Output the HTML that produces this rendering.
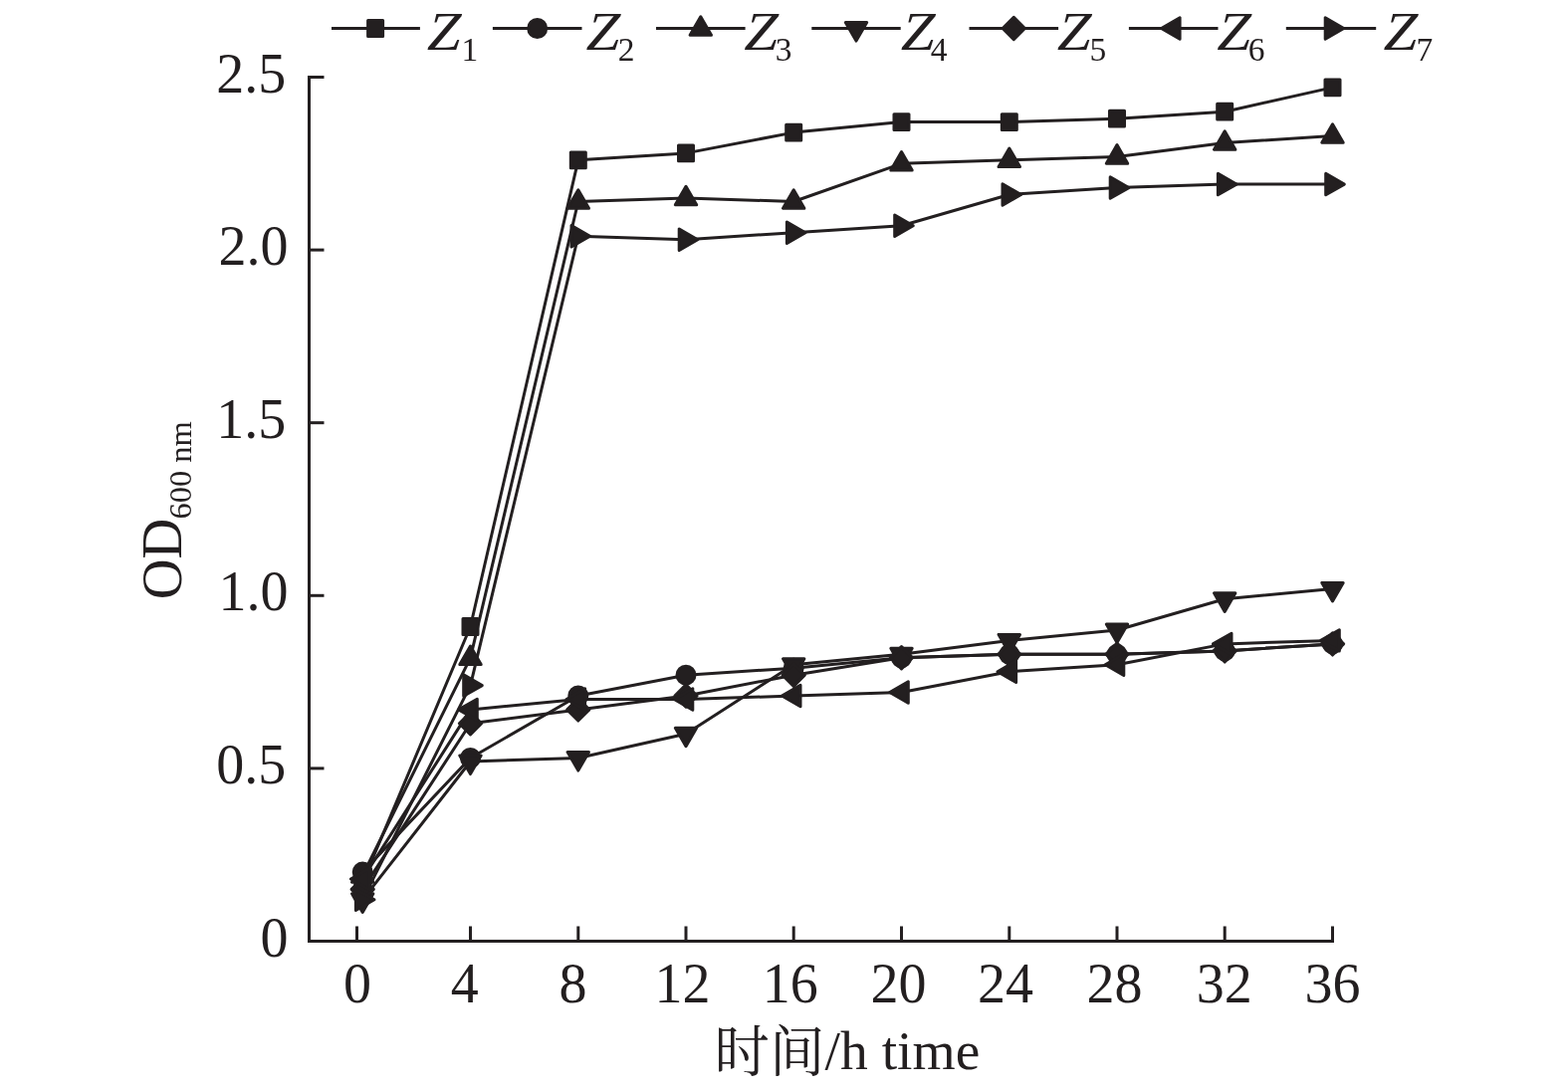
<!DOCTYPE html>
<html lang="zh"><head><meta charset="utf-8"><title>OD600 growth curves</title>
<style>html,body{margin:0;padding:0;background:#fff}svg{display:block}text{font-family:"Liberation Serif","Noto Serif CJK SC",serif;fill:#231f20}.n{font-size:56px}.t{font-size:55.5px}.o{font-size:56.5px}.s{font-size:32.5px}.s2{font-size:33.5px}.z{font-size:55px;font-style:italic}.l{stroke:#231f20;stroke-width:3;fill:none;stroke-linejoin:round;stroke-linecap:butt}.m{fill:#231f20;stroke:#231f20;stroke-width:3;stroke-linejoin:round}.a{stroke:#231f20;stroke-width:3;fill:none}</style></head><body>
<svg width="1575" height="1096" viewBox="0 0 1575 1096">
<defs>
<rect id="sq" class="m" x="-7.5" y="-7.9" width="15" height="15.8"/>
<circle id="ci" class="m" r="9"/>
<polygon id="up" class="m" points="0,-11.8 -10.7,6.8 10.7,6.8"/>
<polygon id="dn" class="m" points="0,12.6 -10.7,-6 10.7,-6"/>
<polygon id="di" class="m" points="0,-11.15 11.15,0 0,11.15 -11.15,0"/>
<polygon id="lf" class="m" points="-11.8,0 6.8,-10.7 6.8,10.7"/>
<polygon id="rt" class="m" points="11.8,0 -6.8,-10.7 -6.8,10.7"/>
</defs>
<g class="a">
<path d="M310.5 76V945.5H1340"/>
<path d="M309.0 771.9H325.5"/>
<path d="M309.0 598.3H325.5"/>
<path d="M309.0 424.7H325.5"/>
<path d="M309.0 251.1H325.5"/>
<path d="M309.0 77.5H325.5"/>
<path d="M358.5 945.5V930.5"/>
<path d="M472.5 945.5V930.5"/>
<path d="M580.8 945.5V930.5"/>
<path d="M689.0 945.5V930.5"/>
<path d="M797.2 945.5V930.5"/>
<path d="M905.5 945.5V930.5"/>
<path d="M1013.8 945.5V930.5"/>
<path d="M1122.0 945.5V930.5"/>
<path d="M1230.2 945.5V930.5"/>
<path d="M1338.5 945.5V930.5"/>
</g>
<text class="n" x="289.6" y="960.6" text-anchor="end">0</text>
<text class="n" x="287.2" y="787.0" text-anchor="end">0.5</text>
<text class="n" x="289.6" y="613.4" text-anchor="end">1.0</text>
<text class="n" x="287.2" y="439.8" text-anchor="end">1.5</text>
<text class="n" x="289.6" y="266.2" text-anchor="end">2.0</text>
<text class="n" x="287.2" y="92.6" text-anchor="end">2.5</text>
<text class="n" x="358.9" y="1007.3" text-anchor="middle">0</text>
<text class="n" x="466.7" y="1007.3" text-anchor="middle">4</text>
<text class="n" x="575.6" y="1007.3" text-anchor="middle">8</text>
<text class="n" x="685.5" y="1007.3" text-anchor="middle">12</text>
<text class="n" x="793.8" y="1007.3" text-anchor="middle">16</text>
<text class="n" x="902.6" y="1007.3" text-anchor="middle">20</text>
<text class="n" x="1010.0" y="1007.3" text-anchor="middle">24</text>
<text class="n" x="1119.6" y="1007.3" text-anchor="middle">28</text>
<text class="n" x="1229.8" y="1007.3" text-anchor="middle">32</text>
<text class="n" x="1338.4" y="1007.3" text-anchor="middle">36</text>
<text class="t" x="717.6" y="1076.3">时间<tspan dy="-2">/h time</tspan></text>
<text class="o" transform="translate(182.2 602.3) rotate(-90)">OD<tspan class="s" dx="-0.8" dy="10.1">600 nm</tspan></text>
<polyline class="l" points="364.2,886.5 472.5,629.5 580.8,160.8 689.0,153.9 797.2,133.1 905.5,122.6 1013.8,122.6 1122.0,119.2 1230.2,112.2 1338.5,87.9"/>
<polyline class="l" points="364.2,876.1 472.5,761.5 580.8,699.0 689.0,678.2 797.2,671.2 905.5,660.8 1013.8,657.3 1122.0,657.3 1230.2,653.9 1338.5,646.9"/>
<polyline class="l" points="364.2,879.5 472.5,660.8 580.8,202.5 689.0,199.0 797.2,202.5 905.5,164.3 1013.8,160.8 1122.0,157.4 1230.2,143.5 1338.5,136.5"/>
<polyline class="l" points="364.2,903.8 472.5,765.0 580.8,761.5 689.0,737.2 797.2,667.7 905.5,657.3 1013.8,643.4 1122.0,633.0 1230.2,601.8 1338.5,591.4"/>
<polyline class="l" points="364.2,893.4 472.5,726.8 580.8,712.9 689.0,699.0 797.2,678.2 905.5,660.8 1013.8,657.3 1122.0,657.3 1230.2,653.9 1338.5,646.9"/>
<polyline class="l" points="364.2,883.0 472.5,712.9 580.8,702.5 689.0,702.5 797.2,699.0 905.5,695.5 1013.8,674.7 1122.0,667.7 1230.2,646.9 1338.5,643.4"/>
<polyline class="l" points="364.2,903.8 472.5,688.6 580.8,237.2 689.0,240.7 797.2,233.7 905.5,226.8 1013.8,195.5 1122.0,188.6 1230.2,185.1 1338.5,185.1"/>
<use href="#sq" x="364.2" y="886.5"/>
<use href="#sq" x="472.5" y="629.5"/>
<use href="#sq" x="580.8" y="160.8"/>
<use href="#sq" x="689.0" y="153.9"/>
<use href="#sq" x="797.2" y="133.1"/>
<use href="#sq" x="905.5" y="122.6"/>
<use href="#sq" x="1013.8" y="122.6"/>
<use href="#sq" x="1122.0" y="119.2"/>
<use href="#sq" x="1230.2" y="112.2"/>
<use href="#sq" x="1338.5" y="87.9"/>
<use href="#ci" x="364.2" y="876.1"/>
<use href="#ci" x="472.5" y="761.5"/>
<use href="#ci" x="580.8" y="699.0"/>
<use href="#ci" x="689.0" y="678.2"/>
<use href="#ci" x="797.2" y="671.2"/>
<use href="#ci" x="905.5" y="660.8"/>
<use href="#ci" x="1013.8" y="657.3"/>
<use href="#ci" x="1122.0" y="657.3"/>
<use href="#ci" x="1230.2" y="653.9"/>
<use href="#ci" x="1338.5" y="646.9"/>
<use href="#up" x="364.2" y="879.5"/>
<use href="#up" x="472.5" y="660.8"/>
<use href="#up" x="580.8" y="202.5"/>
<use href="#up" x="689.0" y="199.0"/>
<use href="#up" x="797.2" y="202.5"/>
<use href="#up" x="905.5" y="164.3"/>
<use href="#up" x="1013.8" y="160.8"/>
<use href="#up" x="1122.0" y="157.4"/>
<use href="#up" x="1230.2" y="143.5"/>
<use href="#up" x="1338.5" y="136.5"/>
<use href="#dn" x="364.2" y="903.8"/>
<use href="#dn" x="472.5" y="765.0"/>
<use href="#dn" x="580.8" y="761.5"/>
<use href="#dn" x="689.0" y="737.2"/>
<use href="#dn" x="797.2" y="667.7"/>
<use href="#dn" x="905.5" y="657.3"/>
<use href="#dn" x="1013.8" y="643.4"/>
<use href="#dn" x="1122.0" y="633.0"/>
<use href="#dn" x="1230.2" y="601.8"/>
<use href="#dn" x="1338.5" y="591.4"/>
<use href="#di" x="364.2" y="893.4"/>
<use href="#di" x="472.5" y="726.8"/>
<use href="#di" x="580.8" y="712.9"/>
<use href="#di" x="689.0" y="699.0"/>
<use href="#di" x="797.2" y="678.2"/>
<use href="#di" x="905.5" y="660.8"/>
<use href="#di" x="1013.8" y="657.3"/>
<use href="#di" x="1122.0" y="657.3"/>
<use href="#di" x="1230.2" y="653.9"/>
<use href="#di" x="1338.5" y="646.9"/>
<use href="#lf" x="364.2" y="883.0"/>
<use href="#lf" x="472.5" y="712.9"/>
<use href="#lf" x="580.8" y="702.5"/>
<use href="#lf" x="689.0" y="702.5"/>
<use href="#lf" x="797.2" y="699.0"/>
<use href="#lf" x="905.5" y="695.5"/>
<use href="#lf" x="1013.8" y="674.7"/>
<use href="#lf" x="1122.0" y="667.7"/>
<use href="#lf" x="1230.2" y="646.9"/>
<use href="#lf" x="1338.5" y="643.4"/>
<use href="#rt" x="364.2" y="903.8"/>
<use href="#rt" x="472.5" y="688.6"/>
<use href="#rt" x="580.8" y="237.2"/>
<use href="#rt" x="689.0" y="240.7"/>
<use href="#rt" x="797.2" y="233.7"/>
<use href="#rt" x="905.5" y="226.8"/>
<use href="#rt" x="1013.8" y="195.5"/>
<use href="#rt" x="1122.0" y="188.6"/>
<use href="#rt" x="1230.2" y="185.1"/>
<use href="#rt" x="1338.5" y="185.1"/>
<path class="l" d="M333.0 28.5H421.9"/>
<use href="#sq" x="377.1" y="28.5"/>
<text class="z" transform="translate(428.8 50.1) skewX(-2) scale(1.1 1)">Z</text>
<text class="s2" x="463.5" y="61.1">1</text>
<path class="l" d="M494.9 28.5H584.5"/>
<use href="#ci" x="539.7" y="28.5"/>
<text class="z" transform="translate(588.6 50.1) skewX(-2) scale(1.1 1)">Z</text>
<text class="s2" x="620.7" y="61.1">2</text>
<path class="l" d="M659.0 28.5H748.6"/>
<use href="#up" x="703.8" y="28.5"/>
<text class="z" transform="translate(747.3 50.1) skewX(-2) scale(1.1 1)">Z</text>
<text class="s2" x="778.8" y="61.1">3</text>
<path class="l" d="M815.3 28.5H904.7"/>
<use href="#dn" x="860.0" y="28.5"/>
<text class="z" transform="translate(904.7 50.1) skewX(-2) scale(1.1 1)">Z</text>
<text class="s2" x="934.7" y="61.1">4</text>
<path class="l" d="M973.5 28.5H1063.1"/>
<use href="#di" x="1018.3" y="28.5"/>
<text class="z" transform="translate(1061.8 50.1) skewX(-2) scale(1.1 1)">Z</text>
<text class="s2" x="1094.4" y="61.1">5</text>
<path class="l" d="M1133.9 28.5H1223.5"/>
<use href="#lf" x="1178.3" y="28.5"/>
<text class="z" transform="translate(1222.2 50.1) skewX(-2) scale(1.1 1)">Z</text>
<text class="s2" x="1253.7" y="61.1">6</text>
<path class="l" d="M1291.8 28.5H1382.2"/>
<use href="#rt" x="1338.0" y="28.5"/>
<text class="z" transform="translate(1389.6 50.1) skewX(-2) scale(1.1 1)">Z</text>
<text class="s2" x="1422.4" y="61.1">7</text>
</svg></body></html>
